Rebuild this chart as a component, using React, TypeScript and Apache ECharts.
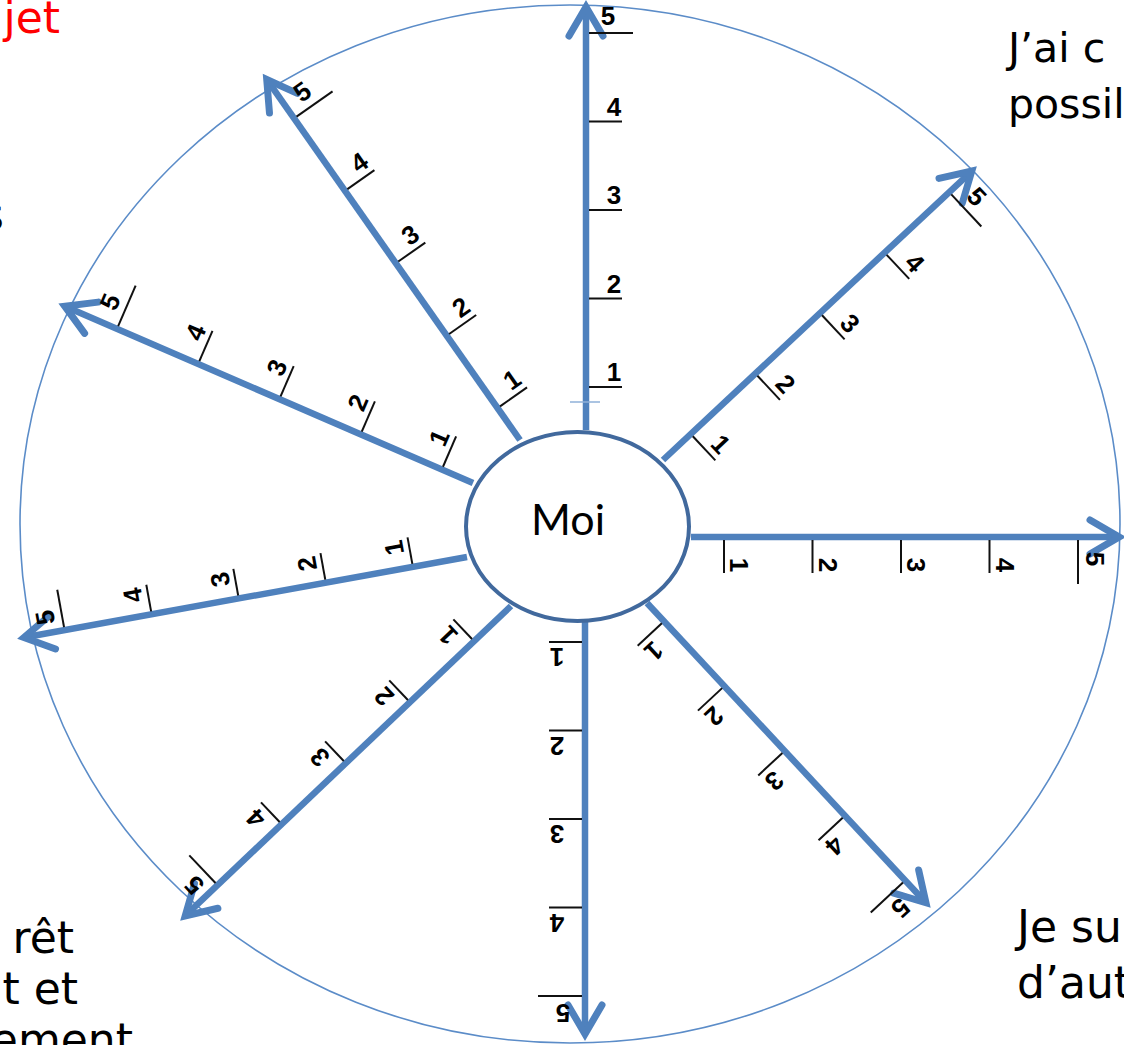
import React, { useEffect, useRef } from 'react';
import * as echarts from 'echarts';

const W = 1124;
const H = 1045;

// ---- data ----
const tickLabels = ['1', '2', '3', '4', '5'];
const centreLabel = 'Moi';
// rays: start point (on the "Moi" ellipse) and arrow tip, in picture units
const rayStarts = [[586, 430], [663, 460], [691, 537], [647, 603], [585, 622], [511, 606], [467, 557], [473, 483], [520, 440]];
const rayTips = [[586, 4], [974, 169], [1122, 537], [928, 905], [585, 1037], [183, 918], [21, 638], [62, 305], [265, 77]];
// distance from ray start to tick "1"
const firstTickOffsets = [43, 38, 33, 25, 20, 51, 55, 34, 39];
const tickStep = 88.5;
// ellipses: cx, cy, rx, ry
const outerRing = [570, 524, 550, 519];
const innerRing = [577.5, 526.5, 111.5, 94.5];
// cut-off texts at the corners
const topLeftText = ['jet'];
const leftText = ['s'];
const topRightText = ['J’ai c', 'possil'];
const bottomLeftText = ['rêt', 't et', 'ement'];
const bottomRightText = ['Je su', 'd’aut'];

const BLUE = '#4f81bd';

export default function App() {
  const ref = useRef<HTMLDivElement>(null);
  useEffect(() => {
    if (!ref.current) return;
    const chart = echarts.init(ref.current, null, { renderer: 'svg' });

    const rayData = rayStarts.map((s, i) => [s[0], s[1], rayTips[i][0], rayTips[i][1], firstTickOffsets[i], i]);
    // labels of the two lower-left rays sit a little closer to their line
    const labelGapShift = (i: number) => (i === 5 || i === 6 ? -6 : 0);

    const ellipseRender = (stroke: string, lw: number, fill: string) => (params: any, api: any) => {
      const c = api.coord([api.value(0), api.value(1)]);
      const e = api.coord([api.value(0) + api.value(2), api.value(1) + api.value(3)]);
      return {
        type: 'ellipse',
        shape: { cx: c[0], cy: c[1], rx: Math.abs(e[0] - c[0]), ry: Math.abs(e[1] - c[1]) },
        style: { stroke, lineWidth: lw, fill },
      };
    };

    const rayRender = (params: any, api: any) => {
      const s = api.coord([api.value(0), api.value(1)]);
      const t = api.coord([api.value(2), api.value(3)]);
      const d1 = api.value(4);
      const idx = api.value(5);
      const gs = labelGapShift(idx);
      const dx = t[0] - s[0];
      const dy = t[1] - s[1];
      const len = Math.hypot(dx, dy);
      const hx = dx / len;
      const hy = dy / len;
      const px = -hy;
      const py = hx;
      const pt = (a: number, b: number) => [s[0] + hx * a + px * b, s[1] + hy * a + py * b];
      const children: any[] = [];
      const lineEnd = pt(len - 3, 0);
      children.push({
        type: 'line',
        shape: { x1: s[0], y1: s[1], x2: lineEnd[0], y2: lineEnd[1] },
        style: { stroke: BLUE, lineWidth: 6.5 },
      });
      if (idx === 0) {
        // faint little cross-mark near the base of the vertical ray
        const c1 = pt(28, -16);
        const c2 = pt(28, 14);
        children.push({
          type: 'line',
          shape: { x1: c1[0], y1: c1[1], x2: c2[0], y2: c2[1] },
          style: { stroke: '#8fb0d8', lineWidth: 1.5 },
        });
      }
      const wl = pt(len - 32, -17);
      const wr = pt(len - 32, 17);
      const tip = pt(len - 3, 0);
      children.push({
        type: 'polyline',
        shape: { points: [wl, tip, wr] },
        style: { stroke: BLUE, lineWidth: 7, fill: null, lineCap: 'round', lineJoin: 'miter' },
      });
      const theta = Math.atan2(-hy, hx);
      tickLabels.forEach((lab, i) => {
        const a = d1 + i * tickStep;
        const last = i === tickLabels.length - 1;
        const p1 = pt(a, 3);
        const p2 = pt(a, (last ? 47 : 36) + gs);
        children.push({
          type: 'line',
          shape: { x1: p1[0], y1: p1[1], x2: p2[0], y2: p2[1] },
          style: { stroke: '#111', lineWidth: 2 },
        });
        const lc = pt(a + (last ? 17 : 15), (last ? 22 : 28) + gs);
        children.push({
          type: 'text',
          x: lc[0],
          y: lc[1],
          rotation: theta - Math.PI / 2,
          style: {
            text: lab,
            fontSize: 26,
            fontFamily: '"Liberation Sans", Arial, sans-serif',
            fontWeight: 'bold',
            fill: '#000',
            align: 'center',
            verticalAlign: 'middle',
          },
        });
      });
      return { type: 'group', children };
    };

    const textFont = '"DejaVu Sans", sans-serif';
    const block = (lines: string[], xs: number[], firstBaseline: number, step: number, align: string, color: string, fs: number) =>
      lines.map((ln, i) => ({
        type: 'text',
        x: xs[Math.min(i, xs.length - 1)],
        y: firstBaseline + i * step - 0.35 * fs,
        z: 10,
        style: { text: ln, fontSize: fs, fontFamily: textFont, fill: color, align, verticalAlign: 'middle' },
      }));

    chart.setOption({
      animation: false,
      backgroundColor: '#ffffff',
      grid: { left: 0, right: 0, top: 0, bottom: 0 },
      xAxis: { type: 'value', min: 0, max: W, show: false },
      yAxis: { type: 'value', min: 0, max: H, inverse: true, show: false },
      series: [
        {
          type: 'custom',
          z: 1,
          clip: false,
          silent: true,
          data: [outerRing],
          renderItem: ellipseRender('#5b8cc8', 1.6, 'none'),
        },
        {
          type: 'custom',
          z: 2,
          clip: false,
          silent: true,
          data: rayData,
          renderItem: rayRender,
        },
        {
          type: 'custom',
          z: 3,
          clip: false,
          silent: true,
          data: [innerRing],
          renderItem: (params: any, api: any) => {
            const base: any = ellipseRender('#41699d', 4, '#ffffff')(params, api);
            const c = api.coord([api.value(0), api.value(1)]);
            return {
              type: 'group',
              children: [
                base,
                {
                  type: 'text',
                  x: c[0] - 9.5,
                  y: c[1] - 8,
                  style: {
                    text: centreLabel,
                    fontSize: 43,
                    fontFamily: 'Lato, "Noto Sans", sans-serif',
                    fill: '#000',
                    align: 'center',
                    verticalAlign: 'middle',
                  },
                },
              ],
            };
          },
        },
      ],
      graphic: [
        ...block(topLeftText, [60], 33, 50, 'right', '#ff0000', 44),
        ...block(leftText, [4], 230, 50, 'right', '#000', 44),
        ...block(topRightText, [1008], 62, 56, 'left', '#000', 41),
        ...block(bottomLeftText, [74, 78, 133], 953, 51, 'right', '#000', 44),
        ...block(bottomRightText, [1017], 942, 56, 'left', '#000', 44),
      ],
    });
    return () => chart.dispose();
  }, []);
  return <div ref={ref} style={{ position: 'fixed', left: 0, top: 0, width: W, height: H }} />;
}
